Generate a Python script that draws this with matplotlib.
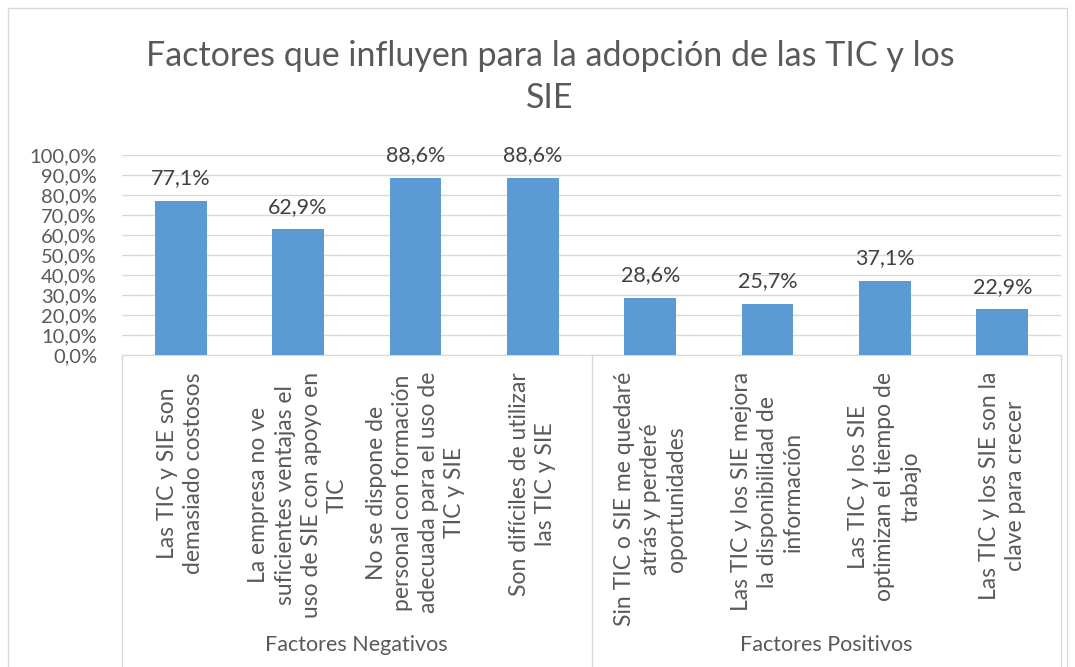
import matplotlib.pyplot as plt
from matplotlib.transforms import blended_transform_factory
from matplotlib.patches import Rectangle

# datos del gráfico
categorias = [
    "Las TIC y SIE son\ndemasiado costosos",
    "La empresa no ve\nsuficientes ventajas el\nuso de SIE con apoyo en\nTIC",
    "No se dispone de\npersonal con formación\nadecuada para el uso de\nTIC y SIE",
    "Son difíciles de utilizar\nlas TIC y SIE",
    "Sin TIC o SIE me quedaré\natrás y perderé\noportunidades",
    "Las TIC y los SIE mejora\nla disponibilidad de\ninformación",
    "Las TIC y los SIE\noptimizan el tiempo de\ntrabajo",
    "Las TIC y los SIE son la\nclave para crecer",
]
valores = [77.1, 62.9, 88.6, 88.6, 28.6, 25.7, 37.1, 22.9]
grupos = ["Factores Negativos", "Factores Positivos"]
tamanos_grupo = [4, 4]

plt.rcParams['font.family'] = ['Lato', 'DejaVu Sans']
gris = '#595959'

fig = plt.figure(figsize=(10.75, 6.67), dpi=100)
ax = fig.add_axes([122 / 1075, 312 / 667, 939 / 1075, 200 / 667])

x = list(range(len(valores)))
ax.bar(x, valores, width=0.44, color='#5B9BD5', zorder=3)

ax.set_xlim(-0.5, len(valores) - 0.5)
ax.set_ylim(0, 100)
ax.set_yticks(range(0, 101, 10))
ax.set_yticklabels([f"{v},0%" for v in range(0, 101, 10)], fontsize=14.5, color=gris)
ax.tick_params(axis='y', length=0, pad=18)
ax.set_xticks([])
ax.grid(axis='y', color='#D9D9D9', linewidth=1, zorder=0)
for s in ['top', 'right', 'left']:
    ax.spines[s].set_visible(False)
ax.spines['bottom'].set_color('#D9D9D9')

# etiquetas de valores
for i, v in enumerate(valores):
    ax.annotate(f"{v:.1f}%".replace('.', ','), (i, v), xytext=(0, 9),
                textcoords='offset points', ha='center', va='bottom',
                fontsize=15.5, color='#404040')

# etiquetas de categorías (eje de varios niveles)
tr = blended_transform_factory(ax.transData, ax.transAxes)
for i, c in enumerate(categorias):
    ax.text(i, -0.085, c, transform=tr, rotation=90, ha='center', va='top',
            multialignment='center', fontsize=16.5, color=gris, linespacing=1.3)

inicio = 0
for g, n in zip(grupos, tamanos_grupo):
    centro = inicio + (n - 1) / 2
    ax.text(centro, -1.45, g, transform=tr, ha='center', va='center',
            fontsize=15.5, color=gris)
    inicio += n

limites = [-0.5]
for n in tamanos_grupo:
    limites.append(limites[-1] + n)
for b in limites:
    ax.plot([b, b], [0, -1.6], transform=tr, color='#D9D9D9', linewidth=1,
            clip_on=False)

fig.text(550 / 1075, 1 - 77 / 667,
         "Factores que influyen para la adopción de las TIC y los\nSIE",
         ha='center', va='center', fontsize=24.5, color=gris, linespacing=1.35)

# borde del gráfico
fig.patches.append(Rectangle((8 / 1075, -0.01), 1059 / 1075, 1 - 8 / 667 + 0.01,
                             transform=fig.transFigure, fill=False,
                             edgecolor='#D9D9D9', linewidth=1))

fig.savefig('out.png', dpi=100)
